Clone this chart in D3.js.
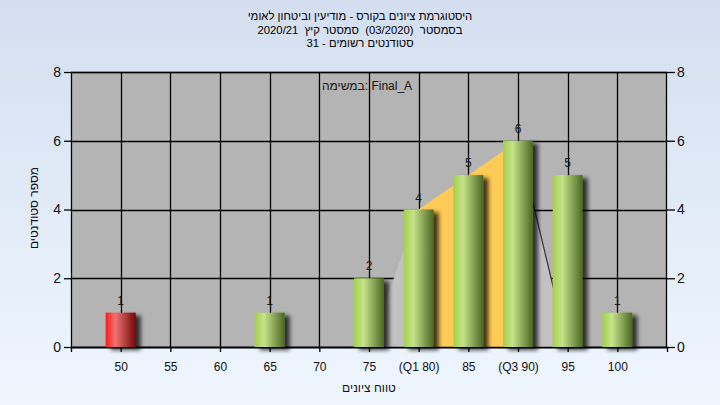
<!DOCTYPE html>
<html><head><meta charset="utf-8">
<script src="https://cdn.jsdelivr.net/npm/d3@7"></script>
<style>
html,body{margin:0;padding:0;}
body{width:720px;height:405px;overflow:hidden;}
text{font-family:"Liberation Sans",Arial,"DejaVu Sans",sans-serif;}
</style></head>
<body><svg id="c" width="720" height="405"></svg>
<script>
// ---- data ----
const titleLines = ["היסטוגרמת ציונים בקורס - מודיעין וביטחון לאומי", "בסמסטר  (03/2020)  סמסטר קיץ  2020/21", "סטודנטים רשומים - 31"];
const legendText = "במשימה: Final_A";
const xTitle = "טווח ציונים";
const yTitle = "מספר סטודנטים";
const grades = [50, 55, 60, 65, 70, 75, 80, 85, 90, 95, 100];
const categories = ["50", "55", "60", "65", "70", "75", "(Q1 80)", "85", "(Q3 90)", "95", "100"];
const counts = [1, 0, 0, 1, 0, 2, 4, 5, 6, 5, 1];
const areaGrades = [75, 80, 85, 90, 95];
const areaValues = [0, 4, 5, 6, 0];
const iqrGrades = [80, 85, 90];
const iqrValues = [4, 5, 6];
const yTicks = [0, 2, 4, 6, 8];
const xDomain = [45, 105];
const yDomain = [0, 8];
const passGrade = 55;

// ---- layout ----
const L = 71, R = 667, T = 72, B = 347;
const svg = d3.select("#c");
const defs = svg.append("defs");

const bg = defs.append("linearGradient").attr("id", "bg").attr("x1", 0).attr("y1", 0).attr("x2", 0).attr("y2", 1);
bg.append("stop").attr("offset", "0%").attr("stop-color", "#d3dff0");
bg.append("stop").attr("offset", "100%").attr("stop-color", "#eff6fe");

function barGrad(id, c0, c1, c2) {
  const g = defs.append("linearGradient").attr("id", id).attr("x1", 0).attr("y1", 0).attr("x2", 1).attr("y2", 0);
  g.append("stop").attr("offset", "0%").attr("stop-color", c0);
  g.append("stop").attr("offset", "32%").attr("stop-color", c1);
  g.append("stop").attr("offset", "100%").attr("stop-color", c2);
}
barGrad("gGreen", "#a2d04a", "#c6e38a", "#4a6622");
barGrad("gRed", "#ff1a1a", "#ef7272", "#730808");

const f = defs.append("filter").attr("id", "sh").attr("x", "-30%").attr("y", "-30%").attr("width", "170%").attr("height", "170%");
f.append("feGaussianBlur").attr("in", "SourceAlpha").attr("stdDeviation", 2).attr("result", "b");
f.append("feOffset").attr("in", "b").attr("dx", 5).attr("dy", 3).attr("result", "o");
f.append("feComponentTransfer").attr("in", "o").attr("result", "o2")
  .append("feFuncA").attr("type", "linear").attr("slope", 0.75);
const m = f.append("feMerge");
m.append("feMergeNode").attr("in", "o2");
m.append("feMergeNode").attr("in", "SourceGraphic");

svg.append("rect").attr("width", 720).attr("height", 405).attr("fill", "url(#bg)");

const x = d3.scaleLinear().domain(xDomain).range([L, R]);
const y = d3.scaleLinear().domain(yDomain).range([B, T]);

// plot background
svg.append("rect").attr("x", L).attr("y", T).attr("width", R - L).attr("height", B - T).attr("fill", "#b4b4b4");

// gridlines
const grid = svg.append("g").attr("stroke", "#000").attr("stroke-width", 1.3);
grades.forEach(g => grid.append("line").attr("x1", Math.round(x(g)) + 0.5).attr("x2", Math.round(x(g)) + 0.5).attr("y1", T).attr("y2", B));
yTicks.forEach(t => grid.append("line").attr("x1", L).attr("x2", R).attr("y1", Math.round(y(t)) + 0.5).attr("y2", Math.round(y(t)) + 0.5));
svg.append("rect").attr("x", L + 0.5).attr("y", T + 0.5).attr("width", R - L - 1).attr("height", B - T).attr("fill", "none").attr("stroke", "#000").attr("stroke-width", 1.3);

// distribution area
const area = d3.area().x((d, i) => x(d[0])).y0(y(0)).y1(d => y(d[1]));
svg.append("path").datum(areaGrades.map((g, i) => [g, areaValues[i]])).attr("d", area).attr("fill", "#c2c2c2");
svg.append("path").datum(iqrGrades.map((g, i) => [g, iqrValues[i]])).attr("d", area).attr("fill", "#ffca55");
const n = areaGrades.length;
svg.append("path").datum([[areaGrades[n - 2], areaValues[n - 2]], [areaGrades[n - 1], areaValues[n - 1]]])
  .attr("d", d3.line().x(d => x(d[0])).y(d => y(d[1]))).attr("stroke", "#333").attr("stroke-width", 1.2).attr("fill", "none");

// axes
const font = "\"Liberation Sans\",Arial,sans-serif";
const axB = svg.append("g").attr("transform", `translate(0,${B})`)
  .call(d3.axisBottom(x).tickValues([xDomain[0]].concat(grades, [xDomain[1]])).tickSize(5).tickSizeOuter(0)
    .tickFormat(v => { const i = grades.indexOf(v); return i < 0 ? "" : categories[i]; }));
axB.select(".domain").attr("stroke", "#000").attr("stroke-width", 1.3);
axB.selectAll(".tick line").attr("stroke", "#000").attr("stroke-width", 1.3);
axB.selectAll(".tick text").attr("font-size", 12).attr("font-family", font).attr("fill", "#111").attr("dy", "0").attr("y", 24);

const axL = svg.append("g").attr("transform", `translate(${L},0)`)
  .call(d3.axisLeft(y).tickValues(yTicks).tickSize(7).tickSizeOuter(0).tickPadding(3));
axL.select(".domain").remove();
axL.selectAll(".tick line").attr("stroke", "#000").attr("stroke-width", 1.3);
axL.selectAll(".tick text").attr("font-size", 14).attr("font-family", font).attr("fill", "#111");

const axR = svg.append("g").attr("transform", `translate(${R},0)`)
  .call(d3.axisRight(y).tickValues(yTicks).tickSize(8).tickSizeOuter(0).tickPadding(2));
axR.select(".domain").remove();
axR.selectAll(".tick line").attr("stroke", "#000").attr("stroke-width", 1.3);
axR.selectAll(".tick text").attr("font-size", 14).attr("font-family", font).attr("fill", "#111");

// bars
const bw = 30;
const bars = grades.map((g, i) => ({ g, v: counts[i] })).filter(d => d.v > 0);
svg.append("g").selectAll("rect").data(bars).join("rect")
  .attr("x", d => x(d.g) - bw / 2).attr("width", bw)
  .attr("y", d => y(d.v)).attr("height", d => y(0) - y(d.v))
  .attr("fill", d => d.g < passGrade ? "url(#gRed)" : "url(#gGreen)")
  .attr("filter", "url(#sh)");
svg.append("g").selectAll("text").data(bars).join("text")
  .attr("x", d => x(d.g)).attr("y", d => y(d.v) - 8)
  .attr("text-anchor", "middle").attr("font-size", 12).attr("fill", "#1a1a1a")
  .text(d => d.v);

// titles
svg.append("g").selectAll("text").data(titleLines).join("text")
  .attr("x", 360).attr("y", (d, i) => 20 + i * 13.5)
  .attr("text-anchor", "middle").attr("direction", "rtl").attr("font-size", 11.3).attr("fill", "#000")
  .style("white-space", "pre")
  .text(d => d);
svg.append("text").attr("x", 367).attr("y", 90).attr("text-anchor", "middle").attr("font-size", 12).attr("fill", "#111").text(legendText);
svg.append("text").attr("x", 369).attr("y", 392).attr("text-anchor", "middle").attr("direction", "rtl").attr("font-size", 12).attr("fill", "#111").text(xTitle);
svg.append("text").attr("transform", "translate(38,208) rotate(-90)").attr("text-anchor", "middle").attr("direction", "rtl").attr("font-size", 12).attr("fill", "#111").text(yTitle);
</script></body></html>
